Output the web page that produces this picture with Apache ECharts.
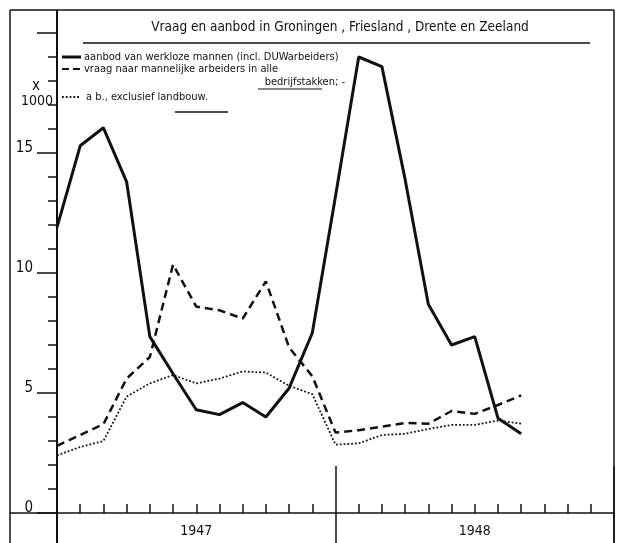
<!DOCTYPE html>
<html>
<head>
<meta charset="utf-8">
<script src="https://cdn.jsdelivr.net/npm/echarts@6/dist/echarts.min.js"></script>
<style>
  html, body { margin: 0; padding: 0; background: #fff; }
  #chart { width: 619px; height: 543px; }
</style>
</head>
<body>
<div id="chart"></div>
<script>
  // months from jan 1947 (index 0) to sep 1948 (index 20), values x 1000
  var years = ['1947', '1948'];
  var aanbod = [11.9, 15.3, 16.05, 13.8, 7.35, 5.8, 4.3, 4.1, 4.6, 4.0, 5.2, 7.5, 13.2, 19.0, 18.6, 13.9, 8.7, 7.0, 7.35, 3.95, 3.3];
  var vraag = [2.8, 3.25, 3.7, 5.6, 6.5, 10.35, 8.6, 8.45, 8.1, 9.65, 6.9, 5.7, 3.35, 3.45, 3.6, 3.75, 3.72, 4.25, 4.13, 4.5, 4.9];
  var exclLandbouw = [2.4, 2.75, 3.0, 4.85, 5.4, 5.75, 5.4, 5.6, 5.9, 5.85, 5.3, 4.95, 2.85, 2.9, 3.25, 3.3, 3.5, 3.67, 3.67, 3.85, 3.72];
  var yLabels = ['0', '5', '10', '15'];

  var font = '"DejaVu Sans Condensed", "Liberation Sans Narrow", "DejaVu Sans", sans-serif';
  var ink = '#111';

  function pairs(arr) {
    return arr.map(function (v, i) { return [i, v]; });
  }

  var myChart = echarts.init(document.getElementById('chart'));

  var option = {
    backgroundColor: '#fff',
    animation: false,
    grid: { left: 57, right: 5, top: 33, bottom: 30 },
    xAxis: [
      {
        type: 'value',
        min: 0,
        max: 24,
        interval: 12,
        position: 'bottom',
        axisLine: { show: true, lineStyle: { color: ink, width: 1.5 } },
        axisTick: { show: true, inside: true, length: 47, lineStyle: { color: ink, width: 1.5 } },
        minorTick: { show: true, splitNumber: 12, length: 9, lineStyle: { color: ink, width: 1.5 } },
        axisLabel: { show: false },
        splitLine: { show: false }
      },
      {
        type: 'category',
        data: years,
        position: 'bottom',
        axisLine: { show: false },
        axisTick: { show: true, length: 30, lineStyle: { color: ink, width: 1.5 } },
        axisLabel: { color: ink, fontSize: 14, fontFamily: font, margin: 11 },
        splitLine: { show: false }
      }
    ],
    yAxis: {
      type: 'value',
      min: 0,
      max: 20,
      interval: 5,
      axisLine: { show: true, lineStyle: { color: ink, width: 2 } },
      axisTick: { show: true, length: 20, lineStyle: { color: ink, width: 1.5 } },
      minorTick: { show: true, splitNumber: 5, length: 9, lineStyle: { color: ink, width: 1.5 } },
      splitLine: { show: false },
      axisLabel: {
        color: ink,
        fontSize: 15,
        fontFamily: font,
        margin: 24,
        verticalAlign: 'bottom',
        lineHeight: 10,
        formatter: function (v) {
          return yLabels.indexOf(String(v)) >= 0 ? String(v) : '';
        }
      }
    },
    series: [
      {
        name: 'aanbod',
        type: 'line',
        showSymbol: false,
        data: pairs(aanbod),
        lineStyle: { color: ink, width: 3 },
        z: 5
      },
      {
        name: 'vraag',
        type: 'line',
        showSymbol: false,
        data: pairs(vraag),
        lineStyle: { color: ink, width: 2.5, type: [8, 5] },
        z: 4
      },
      {
        name: 'excl',
        type: 'line',
        showSymbol: false,
        data: pairs(exclLandbouw),
        lineStyle: { color: ink, width: 1.8, type: [1.8, 2] },
        z: 3
      }
    ],
    graphic: [
      // frame
      { type: 'line', shape: { x1: 10, y1: 10, x2: 10, y2: 543 }, style: { stroke: ink, lineWidth: 1.5 } },
      { type: 'line', shape: { x1: 10, y1: 10, x2: 614, y2: 10 }, style: { stroke: ink, lineWidth: 1.5 } },
      { type: 'line', shape: { x1: 614, y1: 10, x2: 614, y2: 543 }, style: { stroke: ink, lineWidth: 1.5 } },
      { type: 'line', shape: { x1: 57, y1: 10, x2: 57, y2: 543 }, style: { stroke: ink, lineWidth: 2 } },
      { type: 'line', shape: { x1: 10, y1: 513, x2: 57, y2: 513 }, style: { stroke: ink, lineWidth: 1.5 } },
      // title
      { type: 'text', x: 340, y: 27, style: { text: 'Vraag en aanbod in Groningen , Friesland , Drente en Zeeland', fill: ink, font: '13.5px ' + font, textAlign: 'center', textVerticalAlign: 'middle' } },
      { type: 'line', shape: { x1: 83, y1: 43, x2: 590, y2: 43 }, style: { stroke: ink, lineWidth: 1.5 } },
      // legend
      { type: 'line', shape: { x1: 62, y1: 57, x2: 81, y2: 57 }, style: { stroke: ink, lineWidth: 3 } },
      { type: 'text', x: 84, y: 57, style: { text: 'aanbod van werkloze mannen (incl. DUWarbeiders)', fill: ink, font: '11px ' + font, textVerticalAlign: 'middle' } },
      { type: 'line', shape: { x1: 62, y1: 69, x2: 81, y2: 69 }, style: { stroke: ink, lineWidth: 2, lineDash: [7, 4] } },
      { type: 'text', x: 84, y: 69, style: { text: 'vraag naar mannelijke arbeiders in alle', fill: ink, font: '11px ' + font, textVerticalAlign: 'middle' } },
      { type: 'text', x: 345, y: 82, style: { text: 'bedrijfstakken; -', fill: ink, font: '11px ' + font, textAlign: 'right', textVerticalAlign: 'middle' } },
      { type: 'line', shape: { x1: 258, y1: 89, x2: 322, y2: 89 }, style: { stroke: ink, lineWidth: 1 } },
      { type: 'line', shape: { x1: 62, y1: 97, x2: 81, y2: 97 }, style: { stroke: ink, lineWidth: 1.8, lineDash: [1.8, 2] } },
      { type: 'text', x: 86, y: 97, style: { text: 'a b., exclusief landbouw.', fill: ink, font: '11px ' + font, textVerticalAlign: 'middle' } },
      { type: 'line', shape: { x1: 175, y1: 112, x2: 228, y2: 112 }, style: { stroke: ink, lineWidth: 1.5 } },
      // unit
      { type: 'text', x: 36, y: 86, style: { text: 'x', fill: ink, font: '15px ' + font, textAlign: 'center', textVerticalAlign: 'middle' } },
      { type: 'text', x: 37, y: 101, style: { text: '1000', fill: ink, font: '14px ' + font, textAlign: 'center', textVerticalAlign: 'middle' } }
    ]
  };

  myChart.setOption(option);
</script>
</body>
</html>
